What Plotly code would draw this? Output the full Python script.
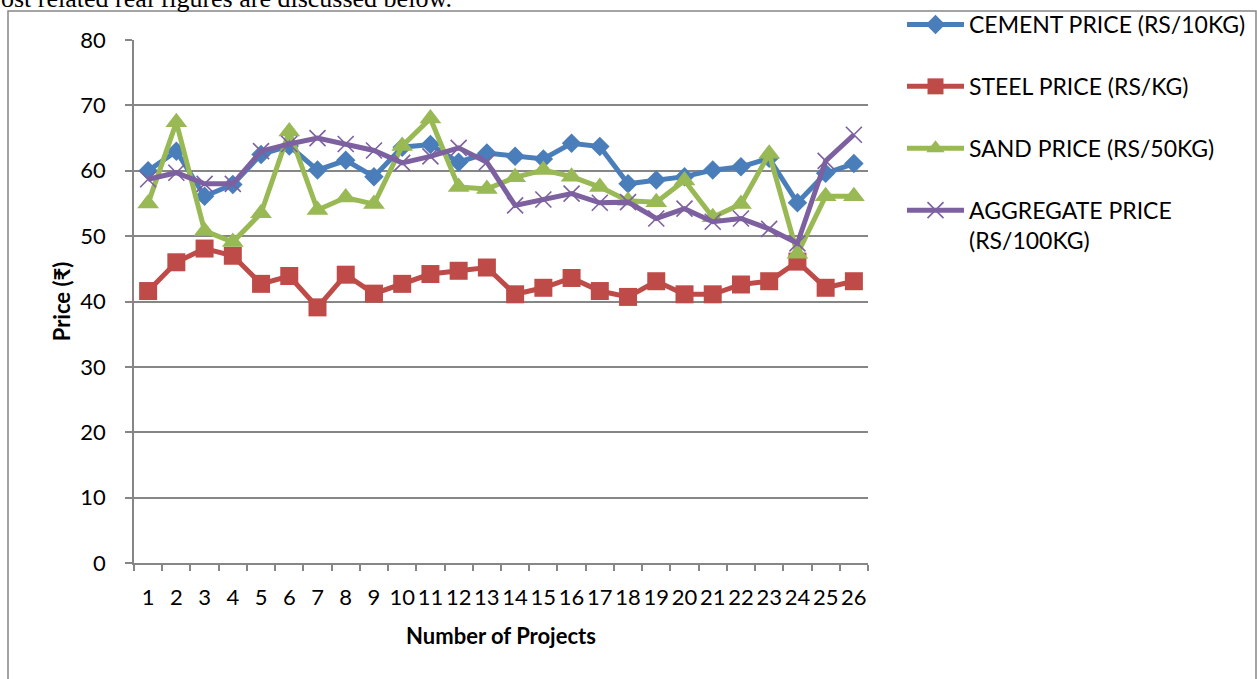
import plotly.graph_objects as go

# ---- data ----
projects = ["1", "2", "3", "4", "5", "6", "7", "8", "9", "10", "11", "12", "13",
            "14", "15", "16", "17", "18", "19", "20", "21", "22", "23", "24", "25", "26"]
cement = [60.0, 63.0, 56.1, 57.9, 62.5, 63.8, 60.1, 61.6, 59.1, 63.6, 64.0, 61.3, 62.7,
          62.2, 61.8, 64.2, 63.7, 58.0, 58.6, 59.1, 60.1, 60.6, 61.9, 55.1, 59.6, 61.1]
steel = [41.6, 46.0, 48.1, 47.0, 42.7, 43.9, 39.1, 44.1, 41.2, 42.7, 44.2, 44.7, 45.2,
         41.1, 42.1, 43.6, 41.6, 40.7, 43.1, 41.1, 41.1, 42.6, 43.1, 46.1, 42.1, 43.1]
sand = [55.0, 67.4, 50.8, 49.1, 53.5, 66.0, 54.0, 55.9, 54.9, 63.8, 68.0, 57.5, 57.2,
        59.0, 60.1, 59.1, 57.5, 55.4, 55.2, 58.5, 52.9, 54.9, 62.6, 47.3, 56.1, 56.1]
aggregate = [58.7, 59.7, 58.0, 58.0, 63.0, 64.1, 65.0, 64.1, 63.1, 61.2, 62.2, 63.5, 61.3,
             54.7, 55.6, 56.5, 55.1, 55.2, 52.7, 54.2, 52.2, 52.7, 51.1, 48.9, 61.5, 65.5]

series_names = ["CEMENT PRICE (RS/10KG)", "STEEL PRICE (RS/KG)",
                "SAND PRICE (RS/50KG)", "AGGREGATE PRICE<br>(RS/100KG)"]
y_ticks = [0, 10, 20, 30, 40, 50, 60, 70, 80]

# ---- layout geometry (pixels) ----
W, H = 1257, 679
L, R, T, B = 134, 868, 40, 563


def px_x(p):
    return (p - L) / (R - L)


def px_y(p):
    return (B - p) / (B - T)


FONT = "Lato, 'Open Sans', 'Noto Sans', sans-serif"
GRID = "#868686"

styles = [
    dict(color="#4A7EBB", symbol="diamond", size=15, line=dict(width=0)),
    dict(color="#BE4B48", symbol="square", size=18, line=dict(width=0)),
    dict(color="#98B954", symbol="triangle-up", size=19, line=dict(width=0)),
    dict(color="#7D60A0", symbol="x-thin", size=16, line=dict(width=1.6, color="#7D60A0")),
]
values = [cement, steel, sand, aggregate]

fig = go.Figure()
for name, vals, st in zip(series_names, values, styles):
    fig.add_trace(go.Scatter(
        x=projects, y=vals, name=name, mode="lines+markers",
        line=dict(color=st["color"], width=5),
        marker=dict(symbol=st["symbol"], size=st["size"], color=st["color"], line=st["line"]),
        legendgroup=name,
    ))

fig.update_layout(
    width=W, height=H,
    margin=dict(l=L, r=W - R, t=T, b=H - B, autoexpand=False),
    paper_bgcolor="white", plot_bgcolor="white",
    font=dict(family=FONT, size=22, color="black"),
    showlegend=True,
    legend=dict(
        x=px_x(902), y=px_y(3), xanchor="left", yanchor="top",
        font=dict(family=FONT, size=23, color="black"),
        bgcolor="rgba(0,0,0,0)", borderwidth=0,
        traceorder="grouped", tracegroupgap=29, valign="top",
        itemwidth=57,
    ),
    xaxis=dict(
        type="category", range=[-0.5, 25.5],
        showgrid=False, showline=True, linecolor=GRID, linewidth=1.5,
        ticks="outside", tickson="boundaries", ticklen=6, tickcolor=GRID, tickwidth=1.5,
        tickangle=0,
        tickfont=dict(family=FONT, size=22), ticklabelstandoff=14,
        title=dict(text="<b>Number of Projects</b>", font=dict(family=FONT, size=22), standoff=19),
        fixedrange=True,
    ),
    yaxis=dict(
        range=[0, 80], tickvals=y_ticks,
        showgrid=True, gridcolor=GRID, gridwidth=1.5,
        showline=True, linecolor=GRID, linewidth=1.5,
        ticks="outside", ticklen=7, tickcolor=GRID, tickwidth=1.5,
        tickfont=dict(family=FONT, size=22), ticklabelstandoff=15,
        title=dict(text="<b>Price (₹)</b>", font=dict(family=FONT, size=22), standoff=4),
        zeroline=False, fixedrange=True,
    ),
    shapes=[
        dict(type="rect", xref="paper", yref="paper",
             x0=px_x(8), x1=px_x(1256), y0=px_y(700), y1=px_y(11),
             line=dict(color=GRID, width=1.5), fillcolor="rgba(0,0,0,0)", layer="below"),
    ],
    annotations=[
        dict(text="ost related real figures are discussed below.", xref="paper", yref="paper",
             x=px_x(-1), y=px_y(15), xanchor="left", yanchor="bottom", showarrow=False,
             font=dict(family="'Liberation Serif', 'DejaVu Serif', serif", size=26, color="black")),
    ],
)

fig.write_html("out.html", config={"displayModeBar": False},
               post_script="document.body.style.margin='0';")
